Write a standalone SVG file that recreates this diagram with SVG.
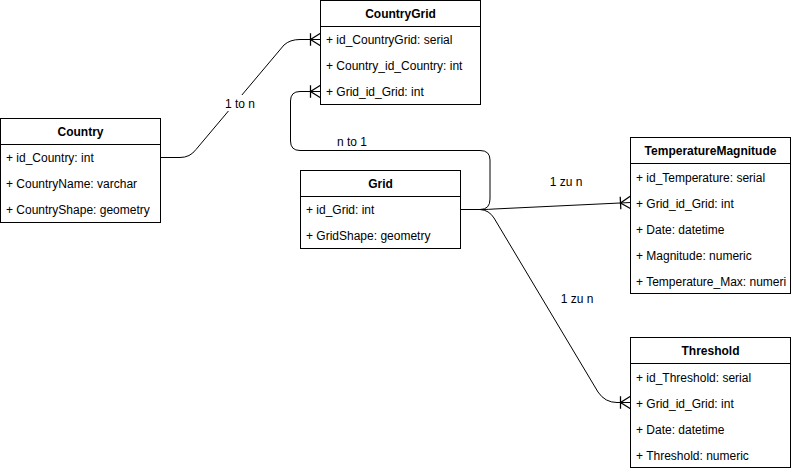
<svg xmlns="http://www.w3.org/2000/svg" width="792" height="472" viewBox="0 0 792 472">
  <style>
    .box { fill: #ffffff; stroke: #000000; stroke-width: 1; }
    .div { stroke: #000000; stroke-width: 1; }
    .title { font-family: "Liberation Sans", Arial, sans-serif; font-size: 12px; font-weight: bold; fill: #000000; text-anchor: middle; }
    .row { font-family: "Liberation Sans", Arial, sans-serif; font-size: 12px; fill: #000000; }
    .edge { fill: none; stroke: #000000; stroke-width: 1; }
    .lbl { font-family: "Liberation Sans", Arial, sans-serif; font-size: 12px; fill: #000000; text-anchor: middle; }
  </style>
  <defs>
    <!-- one-to-many crow's foot: bar plus three-prong foot -->
    <marker id="oneToMany" markerUnits="userSpaceOnUse" markerWidth="20" markerHeight="20" refX="0" refY="0" viewBox="-12 -8 14 16" orient="auto" overflow="visible">
      <path d="M-8,-5 L-8,5 M0,-5 L-8,0 L0,5" fill="none" stroke="#000000" stroke-width="1"/>
    </marker>
    <clipPath id="clipTemp">
      <rect x="630" y="137" width="160" height="157"/>
    </clipPath>
  </defs>

  <rect width="792" height="472" fill="#ffffff"/>

  <g id="connectors">
    <!-- Country -> CountryGrid -->
    <path class="edge" d="M160.5,157.5 L180,157.5 Q190,157.5 196,149.5 L284,45 Q290,39.5 300,39.5 L320.5,39.5" marker-end="url(#oneToMany)"/>
    <!-- Grid -> CountryGrid -->
    <path class="edge" d="M460.5,209.5 L480,209.5 Q490,209.5 490,199 L490,160 Q490,150.5 480,150.5 L300,150.5 Q290.5,150.5 290.5,141 L290.5,101 Q290.5,91.5 300,91.5 L320.5,91.5" marker-end="url(#oneToMany)"/>
    <!-- Grid -> TemperatureMagnitude -->
    <path class="edge" d="M460.5,209.5 L483,209.5 Q488,209.5 494,209 L630.5,202.5" marker-end="url(#oneToMany)"/>
    <!-- Grid -> Threshold -->
    <path class="edge" d="M460.5,209.5 L480,209.5 Q489,210 494,218 L598,392 Q605,402.5 617,402.5 L630.5,402.5" marker-end="url(#oneToMany)"/>

    <rect x="222" y="95" width="36" height="16" fill="#ffffff"/>
    <text class="lbl" x="240" y="107.5">1 to n</text>
    <text class="lbl" x="352" y="145.5">n to 1</text>
    <text class="lbl" x="566" y="185.5">1 zu n</text>
    <text class="lbl" x="577" y="302.5">1 zu n</text>
  </g>

  <g id="CountryGrid">
    <rect class="box" x="320.5" y="0.5" width="160" height="104"/>
    <line class="div" x1="320.5" y1="26.5" x2="480.5" y2="26.5"/>
    <text class="title" x="400.5" y="18">CountryGrid</text>
    <text class="row" x="326" y="44">+ id_CountryGrid: serial</text>
    <text class="row" x="326" y="70">+ Country_id_Country: int</text>
    <text class="row" x="326" y="96">+ Grid_id_Grid: int</text>
  </g>

  <g id="Country">
    <rect class="box" x="0.5" y="118.5" width="160" height="104"/>
    <line class="div" x1="0.5" y1="144.5" x2="160.5" y2="144.5"/>
    <text class="title" x="80.5" y="136">Country</text>
    <text class="row" x="6" y="162">+ id_Country: int</text>
    <text class="row" x="6" y="188">+ CountryName: varchar</text>
    <text class="row" x="6" y="214">+ CountryShape: geometry</text>
  </g>

  <g id="Grid">
    <rect class="box" x="300.5" y="170.5" width="160" height="78"/>
    <line class="div" x1="300.5" y1="196.5" x2="460.5" y2="196.5"/>
    <text class="title" x="380.5" y="188">Grid</text>
    <text class="row" x="306" y="214">+ id_Grid: int</text>
    <text class="row" x="306" y="240">+ GridShape: geometry</text>
  </g>

  <g id="TemperatureMagnitude">
    <rect class="box" x="630.5" y="137.5" width="160" height="156"/>
    <line class="div" x1="630.5" y1="163.5" x2="790.5" y2="163.5"/>
    <text class="title" x="710.5" y="155">TemperatureMagnitude</text>
    <g clip-path="url(#clipTemp)">
      <text class="row" x="636" y="182">+ id_Temperature: serial</text>
      <text class="row" x="636" y="208">+ Grid_id_Grid: int</text>
      <text class="row" x="636" y="234">+ Date: datetime</text>
      <text class="row" x="636" y="260">+ Magnitude: numeric</text>
      <text class="row" x="636" y="286">+ Temperature_Max: numeri</text>
    </g>
  </g>

  <g id="Threshold">
    <rect class="box" x="630.5" y="337.5" width="160" height="130"/>
    <line class="div" x1="630.5" y1="363.5" x2="790.5" y2="363.5"/>
    <text class="title" x="710.5" y="355">Threshold</text>
    <text class="row" x="636" y="382">+ id_Threshold: serial</text>
    <text class="row" x="636" y="408">+ Grid_id_Grid: int</text>
    <text class="row" x="636" y="434">+ Date: datetime</text>
    <text class="row" x="636" y="460">+ Threshold: numeric</text>
  </g>
</svg>
